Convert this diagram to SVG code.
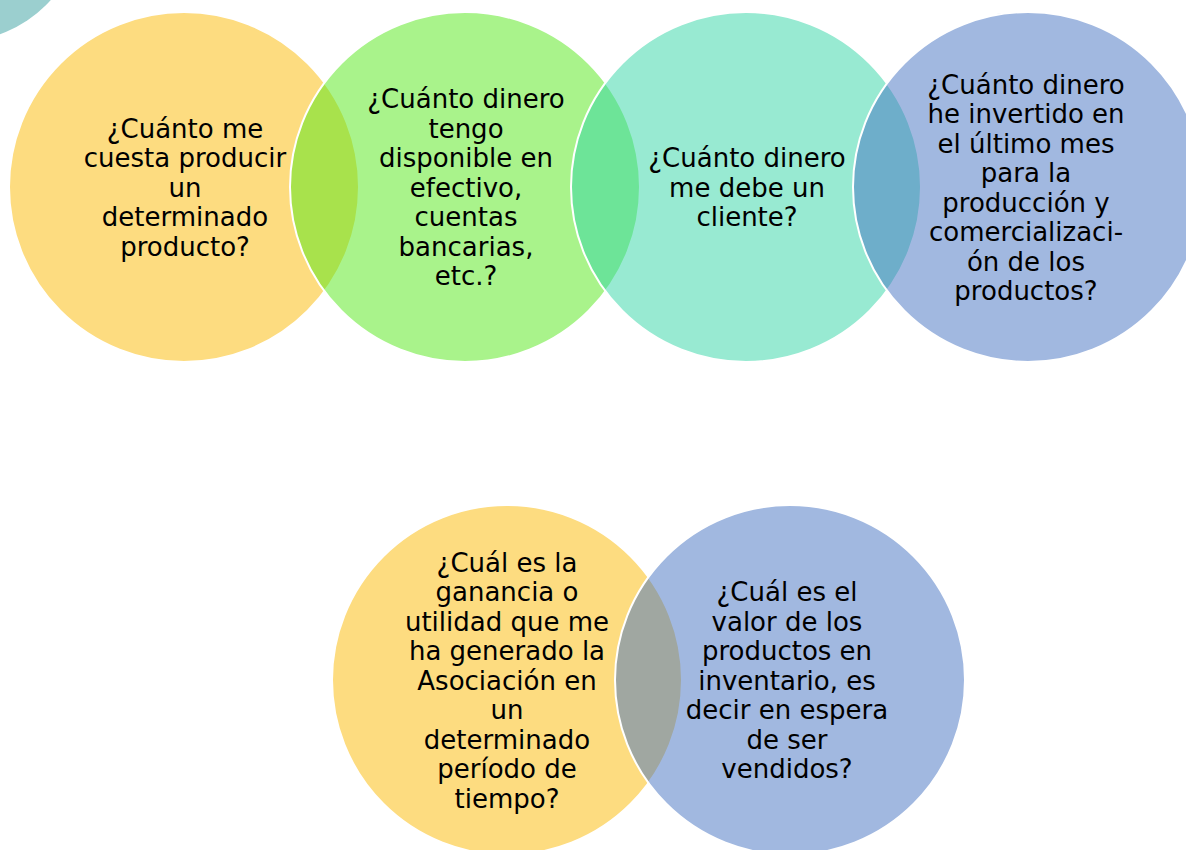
<svg xmlns="http://www.w3.org/2000/svg" width="1186" height="850" viewBox="0 0 1186 850">
<style>
.c{stroke:#ffffff;stroke-width:2}
.y{fill:#FBB901;fill-opacity:0.5}
.g{fill:#53E717;fill-opacity:0.5}
.t{fill:#31D5A5;fill-opacity:0.5}
.b{fill:#4371C1;fill-opacity:0.5}
text{font-family:"DejaVu Sans","Liberation Sans",sans-serif;font-size:26px;fill:#000000;text-anchor:middle}
</style>
<rect width="1186" height="850" fill="#ffffff"/>
<circle id="corner" cx="-40" cy="-80" r="121" fill="#9BCFCF"/>
<g id="n1">
<circle class="c y" cx="184" cy="187" r="175"/>
<text x="185"><tspan x="185" y="137.5">¿Cuánto me</tspan><tspan x="185" y="167">cuesta producir</tspan><tspan x="185" y="196.5">un</tspan><tspan x="185" y="226">determinado</tspan><tspan x="185" y="255.5">producto?</tspan></text>
</g>
<g id="n2">
<circle class="c g" cx="465" cy="187" r="175"/>
<text><tspan x="466" y="108">¿Cuánto dinero</tspan><tspan x="466" y="137.5">tengo</tspan><tspan x="466" y="167">disponible en</tspan><tspan x="466" y="196.5">efectivo,</tspan><tspan x="466" y="226">cuentas</tspan><tspan x="466" y="255.5">bancarias,</tspan><tspan x="466" y="285">etc.?</tspan></text>
</g>
<g id="n3">
<circle class="c t" cx="746" cy="187" r="175"/>
<text><tspan x="747" y="167">¿Cuánto dinero</tspan><tspan x="747" y="196.5">me debe un</tspan><tspan x="747" y="226">cliente?</tspan></text>
</g>
<g id="n4">
<circle class="c b" cx="1028" cy="187" r="175"/>
<text><tspan x="1026" y="93.5">¿Cuánto dinero</tspan><tspan x="1026" y="123">he invertido en</tspan><tspan x="1026" y="152.5">el último mes</tspan><tspan x="1026" y="182">para la</tspan><tspan x="1026" y="211.5">producción y</tspan><tspan x="1026" y="241">comercializaci-</tspan><tspan x="1026" y="270.5">ón de los</tspan><tspan x="1026" y="300">productos?</tspan></text>
</g>
<g id="n5">
<circle class="c y" cx="507" cy="680" r="175"/>
<text><tspan x="507" y="571.5">¿Cuál es la</tspan><tspan x="507" y="601">ganancia o</tspan><tspan x="507" y="630.5">utilidad que me</tspan><tspan x="507" y="660">ha generado la</tspan><tspan x="507" y="689.5">Asociación en</tspan><tspan x="507" y="719">un</tspan><tspan x="507" y="748.5">determinado</tspan><tspan x="507" y="778">período de</tspan><tspan x="507" y="807.5">tiempo?</tspan></text>
</g>
<g id="n6">
<circle class="c b" cx="790" cy="680" r="175"/>
<text><tspan x="787" y="601">¿Cuál es el</tspan><tspan x="787" y="630.5">valor de los</tspan><tspan x="787" y="660">productos en</tspan><tspan x="787" y="689.5">inventario, es</tspan><tspan x="787" y="719">decir en espera</tspan><tspan x="787" y="748.5">de ser</tspan><tspan x="787" y="778">vendidos?</tspan></text>
</g>
<g id="connectors"></g>
</svg>
